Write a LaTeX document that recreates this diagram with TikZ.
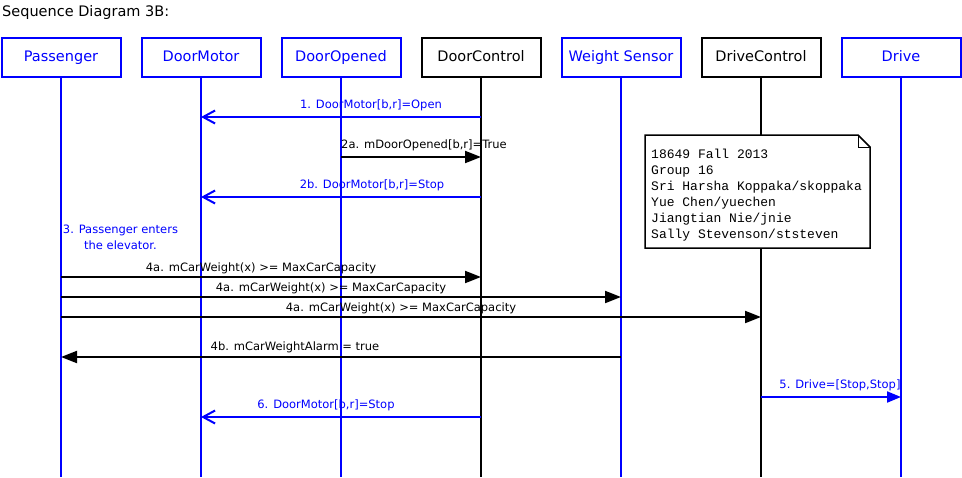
\documentclass[tikz,border=0pt]{standalone}
\usepackage{fontspec}
\setmainfont{DejaVu Sans}
\newfontfamily\notefont{Liberation Mono}
\usetikzlibrary{arrows.meta}
\definecolor{sdblue}{RGB}{0,0,255}
\tikzset{
  objbox/.style={draw, line width=2pt, minimum width=119pt, minimum height=39pt, inner sep=0pt, text height=11pt, text depth=3pt, font=\fontsize{14.5}{17}\selectfont, fill=white},
  bluebox/.style={objbox, draw=sdblue, text=sdblue},
  blackbox/.style={objbox, draw=black, text=black},
  lifeblue/.style={draw=sdblue, line width=2pt},
  lifeblack/.style={draw=black, line width=2pt},
  msgblue/.style={draw=sdblue, line width=2pt, -{Straight Barb[length=12pt,width=13pt,line width=2pt]}},
  msgblack/.style={draw=black, line width=2pt, -{Triangle[length=16pt,width=12pt]}},
  msgbluefill/.style={draw=sdblue, line width=2pt, -{Triangle[length=14pt,width=11pt]}},
  lbl/.style={font=\fontsize{11.5}{14}\selectfont, inner sep=0pt},
}
\begin{document}
\begin{tikzpicture}[x=1pt,y=-1pt]
\useasboundingbox (0,0) rectangle (962,477);
\node[anchor=west, inner sep=0pt, font=\fontsize{14.5}{17}\selectfont] (title) at (2,12) {Sequence Diagram 3B:};

% lifelines first
\coordinate (pE) at (61,477);
\coordinate (mE) at (201,477);
\coordinate (oE) at (341,477);
\coordinate (cE) at (481,477);
\coordinate (wE) at (621,477);
\coordinate (dcE) at (761,477);
\coordinate (dE) at (901,477);

\node[bluebox] (pass) at (61,57) {Passenger};
\node[bluebox] (dmot) at (201,57) {DoorMotor};
\node[bluebox] (dopen) at (341,57) {DoorOpened};
\node[blackbox] (dctl) at (481,57) {DoorControl};
\node[bluebox] (wsen) at (621,57) {Weight Sensor};
\node[blackbox] (drctl) at (761,57) {DriveControl};
\node[bluebox] (drv) at (901,57) {Drive};

\draw[lifeblue] (pass.south) -- (pE);
\draw[lifeblue] (dmot.south) -- (mE);
\draw[lifeblue] (dopen.south) -- (oE);
\draw[lifeblack] (dctl.south) -- (cE);
\draw[lifeblue] (wsen.south) -- (wE);
\draw[lifeblack] (drctl.south) -- (dcE);
\draw[lifeblue] (drv.south) -- (dE);

% note
\draw[line width=1.5pt, fill=white] (645,135) -- (858,135) -- (870,147) -- (870,248) -- (645,248) -- cycle;
\draw[line width=1pt] (858,135) -- (858,147) -- (870,147);
\node[anchor=north west, inner sep=0pt, align=left, font=\notefont\fontsize{13}{16}\selectfont] (note) at (651,149) {18649 Fall 2013\\Group 16\\Sri Harsha Koppaka/skoppaka\\Yue Chen/yuechen\\Jiangtian Nie/jnie\\Sally Stevenson/ststeven};

% message anchor points
\coordinate (c1) at (481,117); \coordinate (m1) at (201,117);
\coordinate (o2) at (341,157); \coordinate (c2) at (481,157);
\coordinate (c3) at (481,197); \coordinate (m3) at (201,197);
\coordinate (p4) at (61,277); \coordinate (c4) at (481,277);
\coordinate (p5) at (61,297); \coordinate (w5) at (621,297);
\coordinate (p6) at (61,317); \coordinate (d6) at (761,317);
\coordinate (w7) at (621,357); \coordinate (p7) at (61,357);
\coordinate (d8) at (761,397); \coordinate (v8) at (901,397);
\coordinate (c9) at (481,417); \coordinate (m9) at (201,417);

\draw[msgblue] (c1) -- (m1);
\node[lbl, text=sdblue] (l1) at (371,105) {1. DoorMotor[b,r]=Open};
\draw[msgblack] (o2) -- (c2);
\node[lbl, anchor=west] (l2) at (341,145) {2a. mDoorOpened[b,r]=True};
\draw[msgblue] (c3) -- (m3);
\node[lbl, text=sdblue] (l3) at (372,185) {2b. DoorMotor[b,r]=Stop};
\node[lbl, text=sdblue, align=center, font=\fontsize{11.5}{16}\selectfont] (l3b) at (120.5,237) {3. Passenger enters\\the elevator.};
\draw[msgblack] (p4) -- (c4);
\node[lbl] (l4) at (261,268) {4a. mCarWeight(x) >= MaxCarCapacity};
\draw[msgblack] (p5) -- (w5);
\node[lbl] (l5) at (331,288) {4a. mCarWeight(x) >= MaxCarCapacity};
\draw[msgblack] (p6) -- (d6);
\node[lbl] (l6) at (401,308) {4a. mCarWeight(x) >= MaxCarCapacity};
\draw[msgblack] (w7) -- (p7);
\node[lbl] (l7) at (295,347) {4b. mCarWeightAlarm = true};
\draw[msgbluefill] (d8) -- (v8);
\node[lbl, text=sdblue] (l8) at (840,385) {5. Drive=[Stop,Stop]};
\draw[msgblue] (c9) -- (m9);
\node[lbl, text=sdblue] (l9) at (326,405) {6. DoorMotor[b,r]=Stop};
\end{tikzpicture}
\end{document}
